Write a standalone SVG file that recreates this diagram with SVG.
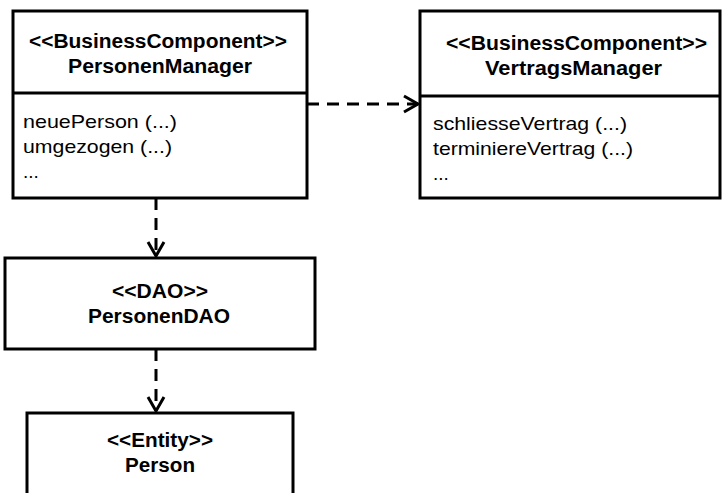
<svg xmlns="http://www.w3.org/2000/svg" width="722" height="493" viewBox="0 0 722 493">
  <style>
    .box { fill: #ffffff; stroke: #000000; stroke-width: 3; }
    .sep { stroke: #000000; stroke-width: 3; }
    .title { font-family: "Liberation Sans", Arial, sans-serif; font-weight: bold; font-size: 20px; fill: #000000; }
    .op { font-family: "Liberation Sans", Arial, sans-serif; font-size: 19px; fill: #000000; }
    .dep { fill: none; stroke: #000000; stroke-width: 3; stroke-dasharray: 12 8; }
  </style>
  <defs>
    <marker id="open-arrow" markerUnits="userSpaceOnUse" markerWidth="20" markerHeight="22" refX="15" refY="10" orient="auto">
      <path d="M1,2 L15,10 L1,18" fill="none" stroke="#000000" stroke-width="3"/>
    </marker>
  </defs>

  <g id="connectors">
    <line class="dep" x1="307" y1="104" x2="418" y2="104" marker-end="url(#open-arrow)"/>
    <line class="dep" x1="156" y1="198" x2="156" y2="256" marker-end="url(#open-arrow)"/>
    <line class="dep" x1="156" y1="349" x2="156" y2="411" marker-end="url(#open-arrow)"/>
  </g>

  <g id="personen-manager">
    <rect class="box" x="13" y="11" width="294" height="187"/>
    <line class="sep" x1="13" y1="93" x2="307" y2="93"/>
    <text class="title" x="29" y="48" textLength="258" lengthAdjust="spacingAndGlyphs">&lt;&lt;BusinessComponent&gt;&gt;</text>
    <text class="title" x="68" y="73" textLength="184" lengthAdjust="spacingAndGlyphs">PersonenManager</text>
    <text class="op" x="23" y="128" textLength="154" lengthAdjust="spacingAndGlyphs">neuePerson (...)</text>
    <text class="op" x="23" y="153" textLength="149" lengthAdjust="spacingAndGlyphs">umgezogen (...)</text>
    <text class="op" x="23" y="178">...</text>
  </g>

  <g id="vertrags-manager">
    <rect class="box" x="420" y="11" width="300" height="187"/>
    <line class="sep" x1="420" y1="96" x2="720" y2="96"/>
    <text class="title" x="446" y="50" textLength="261" lengthAdjust="spacingAndGlyphs">&lt;&lt;BusinessComponent&gt;&gt;</text>
    <text class="title" x="485" y="75" textLength="177" lengthAdjust="spacingAndGlyphs">VertragsManager</text>
    <text class="op" x="433" y="130" textLength="194" lengthAdjust="spacingAndGlyphs">schliesseVertrag (...)</text>
    <text class="op" x="433" y="155" textLength="200" lengthAdjust="spacingAndGlyphs">terminiereVertrag (...)</text>
    <text class="op" x="433" y="180">...</text>
  </g>

  <g id="personen-dao">
    <rect class="box" x="5" y="258" width="310" height="91"/>
    <text class="title" x="112" y="298" textLength="96" lengthAdjust="spacingAndGlyphs">&lt;&lt;DAO&gt;&gt;</text>
    <text class="title" x="88" y="323" textLength="142" lengthAdjust="spacingAndGlyphs">PersonenDAO</text>
  </g>

  <g id="person">
    <rect class="box" x="27" y="413" width="266" height="95"/>
    <text class="title" x="107" y="447" textLength="106" lengthAdjust="spacingAndGlyphs">&lt;&lt;Entity&gt;&gt;</text>
    <text class="title" x="125" y="472" textLength="70" lengthAdjust="spacingAndGlyphs">Person</text>
  </g>
</svg>
